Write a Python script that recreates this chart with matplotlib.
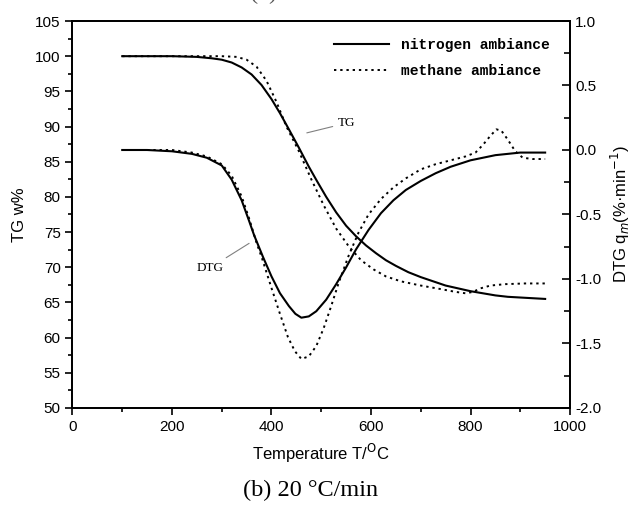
import matplotlib
matplotlib.use("Agg")
import matplotlib.pyplot as plt
from matplotlib.ticker import MultipleLocator, FormatStrFormatter

# TG curves (left axis, %)
tg_n2_T = [100, 150, 200, 250, 280, 300, 320, 340, 360, 380, 400, 417, 435, 455, 475, 491, 510, 530,
           550, 570, 590, 610, 630, 650, 675, 700, 725, 750, 775, 800, 825, 850, 875, 900, 925, 950]
tg_n2 = [100, 100, 100, 99.9, 99.7, 99.5, 99.1, 98.4, 97.4, 95.9, 93.9, 91.9, 89.6, 87.0, 84.3, 82.3, 80.0, 77.8,
         75.9, 74.4, 73.1, 72.0, 71.0, 70.2, 69.3, 68.6, 68.0, 67.4, 67.0, 66.6, 66.3, 66.0, 65.8, 65.7, 65.6, 65.5]

tg_ch4_T = [100, 150, 200, 250, 300, 330, 350, 370, 390, 410, 430, 455, 480, 505, 530, 555, 580, 605,
            630, 660, 700, 740, 770, 790, 805, 820, 840, 870, 910, 950]
tg_ch4 = [100, 100, 100, 100, 100, 99.9, 99.5, 98.5, 96.5, 93.5, 90.0, 86.5, 82.5, 78.8, 75.5, 73.0, 71.0, 69.7,
          68.7, 68.0, 67.4, 66.9, 66.5, 66.3, 66.5, 67.0, 67.4, 67.6, 67.7, 67.7]

# DTG curves (right axis, %/min)
dtg_n2_T = [100, 150, 200, 240, 270, 300, 320, 340, 355, 365, 383, 400, 417, 435, 448, 460, 475, 490, 510,
            530, 550, 570, 595, 620, 645, 670, 700, 730, 760, 800, 850, 900, 950]
dtg_n2 = [0.0, 0.0, -0.01, -0.03, -0.06, -0.12, -0.23, -0.39, -0.55, -0.66, -0.83, -0.98, -1.11, -1.21, -1.27,
          -1.30, -1.29, -1.25, -1.16, -1.04, -0.91, -0.77, -0.62, -0.49, -0.39, -0.31, -0.24, -0.18, -0.13,
          -0.08, -0.04, -0.02, -0.02]

dtg_ch4_T = [100, 150, 200, 240, 270, 300, 320, 340, 355, 370, 381, 400, 417, 433, 447, 460, 475, 490, 505,
             520, 535, 555, 575, 595, 620, 645, 670, 700, 730, 760, 790, 810, 825, 840, 852, 862, 875, 890,
             905, 925, 950]
dtg_ch4 = [0.0, 0.0, 0.0, -0.02, -0.05, -0.11, -0.2, -0.36, -0.53, -0.72, -0.84, -1.07, -1.27, -1.45, -1.56,
           -1.62, -1.60, -1.52, -1.38, -1.21, -1.03, -0.82, -0.64, -0.50, -0.38, -0.29, -0.22, -0.15, -0.11,
           -0.08, -0.05, -0.02, 0.04, 0.11, 0.16, 0.15, 0.08, -0.01, -0.06, -0.07, -0.07]

fig = plt.figure(figsize=(6.33, 5.11), dpi=100)
ax = fig.add_axes([0.1145, 0.2016, 0.786, 0.7573])
ax2 = ax.twinx()

dots = (0, (1.2, 2))
ax.plot(tg_n2_T, tg_n2, color="black", lw=1.5, label="nitrogen ambiance")
ax.plot(tg_ch4_T, tg_ch4, color="black", lw=1.4, ls=dots, label="methane ambiance")
ax2.plot(dtg_n2_T, dtg_n2, color="black", lw=1.5)
ax2.plot(dtg_ch4_T, dtg_ch4, color="black", lw=1.4, ls=dots)

ax.set_xlim(0, 1000)
ax.set_ylim(50, 105)
ax2.set_ylim(-2.0, 1.0)

ax.xaxis.set_major_locator(MultipleLocator(200))
ax.xaxis.set_minor_locator(MultipleLocator(100))
ax.yaxis.set_major_locator(MultipleLocator(5))
ax.yaxis.set_minor_locator(MultipleLocator(2.5))
ax2.yaxis.set_major_locator(MultipleLocator(0.5))
ax2.yaxis.set_minor_locator(MultipleLocator(0.25))
ax2.yaxis.set_major_formatter(FormatStrFormatter("%.1f"))

tick_font = "Liberation Sans"
ax.tick_params(axis="both", which="major", direction="out", length=5, width=1.2, labelsize=11)
ax.tick_params(axis="both", which="minor", direction="out", length=3, width=1.2)
ax.tick_params(axis="x", top=False, which="both")
ax2.tick_params(axis="y", which="major", direction="in", length=6, width=1.2, labelsize=11)
ax2.tick_params(axis="y", which="minor", direction="in", length=4, width=1.2)
for lab in ax.get_xticklabels() + ax.get_yticklabels() + ax2.get_yticklabels():
    lab.set_fontfamily(tick_font)

for a in (ax, ax2):
    for s in a.spines.values():
        s.set_linewidth(1.3)

ax.set_xlabel("Temperature T/$^{\\mathrm{O}}$C", fontfamily=tick_font, fontsize=12, labelpad=6)
ax.set_ylabel("TG w%", fontfamily=tick_font, fontsize=12, labelpad=6)
ax2.set_ylabel("DTG q$_{m}$(%·min$^{-1}$)", fontfamily=tick_font, fontsize=12, labelpad=6)

leg = ax.legend(loc="upper right", bbox_to_anchor=(0.985, 0.99), frameon=False,
                handlelength=3.8, handletextpad=0.8, labelspacing=0.8,
                prop={"family": "Liberation Mono", "size": 10.5, "weight": "bold"})

ax.annotate("TG", xy=(471, 89.1), xytext=(534, 90.5), fontsize=9.5, fontfamily="Liberation Serif",
            va="center", ha="left",
            arrowprops=dict(arrowstyle="-", color="gray", lw=0.8, shrinkA=2, shrinkB=0))
ax.annotate("DTG", xy=(355, 73.4), xytext=(276, 69.9), fontsize=9.5, fontfamily="Liberation Serif",
            va="center", ha="center",
            arrowprops=dict(arrowstyle="-", color="gray", lw=0.8, shrinkA=2, shrinkB=0))

fig.text(0.49, 0.04, "(b) 20 °C/min", ha="center", va="center",
         fontfamily="Liberation Serif", fontsize=17.5)
fig.text(0.50, 1.013, "(a) 10 °C/min", ha="center", va="center",
         fontfamily="Liberation Serif", fontsize=17.5, color="#555555")

fig.savefig("out.png", dpi=100)
